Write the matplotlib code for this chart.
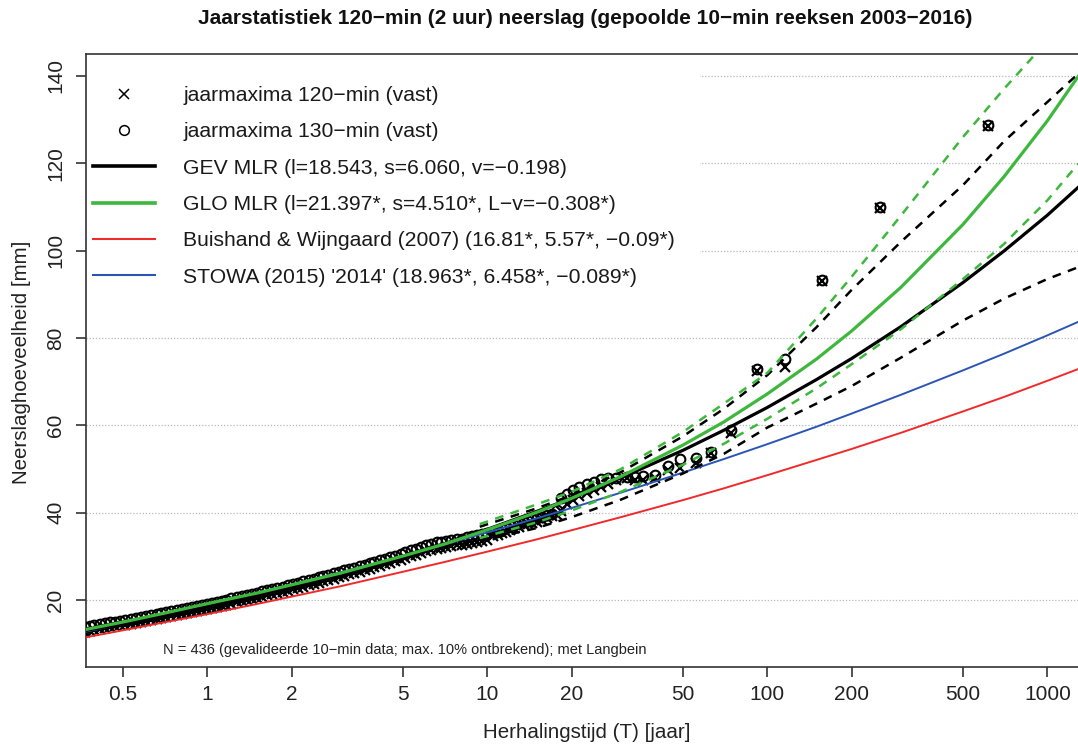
import numpy as np
import matplotlib
matplotlib.use("Agg")
import matplotlib.pyplot as plt
from matplotlib.patches import Rectangle

plt.rcParams['font.family'] = ['Liberation Sans', 'DejaVu Sans']

# ======= data =======
# return periods (jaar) for the fitted curves
T_curve = [0.369, 0.5, 0.7, 1, 1.5, 2, 3, 5, 7, 10, 15, 20, 30, 50, 70,
           100, 150, 200, 300, 500, 700, 1000, 1290]
gev_mlr = [13.1, 14.6, 16.5, 18.5, 21.1, 23.1, 26.0, 30.0, 32.9, 36.2, 40.3, 43.3, 48.0, 54.3, 58.9,
           64.1, 70.5, 75.3, 82.6, 92.7, 99.9, 108.1, 114.5]
glo_mlr = [13.3, 15.0, 17.0, 19.2, 21.6, 23.5, 26.2, 30.1, 32.8, 36.1, 40.1, 43.3, 48.3, 55.5, 60.8,
           67.2, 75.2, 81.6, 91.6, 106.0, 116.9, 129.7, 139.9]
buishand = [11.5, 13.1, 14.9, 16.8, 19.1, 20.8, 23.2, 26.5, 28.7, 31.1, 33.9, 36.0, 39.0, 42.9, 45.6,
            48.6, 52.1, 54.6, 58.3, 63.2, 66.5, 70.2, 72.9]
stowa = [12.8, 14.6, 16.7, 19.0, 21.6, 23.6, 26.4, 30.1, 32.7, 35.5, 38.7, 41.1, 44.6, 49.2, 52.3,
         55.7, 59.7, 62.7, 67.0, 72.6, 76.4, 80.6, 83.7]

# confidence bands (dashed)
T_band = [9.4, 15, 20, 30, 50, 70, 100, 150, 200, 300, 500, 700, 1000, 1290]
gev_upper = [36.8, 41.0, 44.0, 49.3, 57.5, 63.8, 71.5, 82.5, 91.0, 102.0, 115.0, 125.0, 134.0, 140.5]
gev_lower = [33.5, 36.5, 39.0, 43.0, 49.0, 53.5, 59.5, 65.0, 69.0, 75.5, 84.0, 89.0, 93.5, 96.2]
glo_upper = [37.4, 41.9, 44.8, 50.0, 58.5, 65.0, 72.0, 84.5, 94.0, 108.0, 126.0, 137.0, 148.0, 157.0]
glo_lower = [34.2, 37.8, 40.5, 44.8, 51.0, 55.8, 61.5, 68.5, 74.0, 82.0, 93.5, 101.5, 111.5, 119.9]

# annual maxima (plotting positions, Langbein)
T_max = [614, 252, 157, 116, 92, 74, 63, 55.5, 48.8, 44.1, 39.8, 36.0, 33.6, 31.5, 28.9, 27.0,
         25.4, 24.0, 22.7, 21.3, 20.3, 19.2, 18.4, 17.7, 17.0, 16.3, 15.7, 15.1, 14.5, 14.0,
         13.5, 13.0, 12.5, 12.1, 11.7, 11.3, 10.9, 10.5,
         10, 9.6, 9.2, 8.8, 8.45, 8.1, 7.8, 7.45, 7.15, 6.85, 6.6, 6.3, 6.05, 5.8, 5.55, 5.35,
         5.1, 4.9, 4.7, 4.5, 4.3, 4.15, 3.95, 3.8, 3.65, 3.5, 3.35, 3.2, 3.07, 2.95, 2.83, 2.71,
         2.6, 2.5, 2.4, 2.3, 2.2, 2.11, 2.02, 1.94, 1.86, 1.78, 1.71, 1.64, 1.57, 1.51, 1.45,
         1.39, 1.33, 1.28, 1.22, 1.17, 1.13, 1.08, 1.04, 1.0, 0.96, 0.92, 0.88, 0.845, 0.81,
         0.78, 0.745, 0.715, 0.685, 0.66, 0.63, 0.605, 0.58, 0.555, 0.535, 0.51, 0.49, 0.47,
         0.45, 0.43, 0.415, 0.395, 0.38, 0.365]
max_120 = [128.6, 109.8, 93.1, 73.3, 72.5, 58.2, 53.6, 51.5, 50.2, 49.7, 47.9, 47.6, 47.4, 47.9,
           47.6, 46.5, 45.8, 45.2, 44.6, 43.8, 43.0, 42.0, 40.5, 39.6, 39.2, 38.7, 38.3, 38.0,
           37.7, 37.4, 37.1, 36.8, 36.4, 36.0, 35.6, 35.3, 35.0, 34.6,
           33.8, 33.6, 33.4, 33.1, 32.9, 32.7, 32.6, 32.4, 32.2, 32.0, 31.8, 31.5, 31.2, 30.8,
           30.4, 30.1, 29.7, 29.3, 28.9, 28.6, 28.2, 27.9, 27.5, 27.2, 26.9, 26.5, 26.2, 25.9,
           25.6, 25.3, 24.9, 24.6, 24.3, 24.0, 23.7, 23.4, 23.1, 22.8, 22.5, 22.2, 21.9, 21.6,
           21.4, 21.1, 20.8, 20.6, 20.3, 20.0, 19.7, 19.5, 19.2, 18.9, 18.7, 18.4, 18.2, 18.0,
           17.7, 17.5, 17.2, 17.0, 16.8, 16.6, 16.3, 16.1, 15.9, 15.7, 15.4, 15.2, 15.0, 14.8,
           14.6, 14.4, 14.2, 14.0, 13.8, 13.6, 13.4, 13.2, 13.0, 12.8]
max_130 = [128.8, 110.0, 93.3, 75.3, 72.8, 58.9, 54.0, 52.6, 52.4, 50.6, 48.6, 48.4, 48.2, 48.2,
           48.0, 47.9, 47.8, 47.0, 46.5, 45.9, 45.1, 44.2, 43.3, 40.6, 39.8, 39.4, 39.0, 38.8,
           38.5, 38.2, 37.9, 37.6, 37.3, 37.0, 36.6, 36.2, 35.9, 35.5,
           35.4, 35.2, 34.9, 34.6, 34.4, 34.1, 33.9, 33.7, 33.5, 33.4, 33.2, 32.9, 32.6, 32.2,
           31.8, 31.4, 31.0, 30.6, 30.2, 29.8, 29.5, 29.2, 28.8, 28.5, 28.1, 27.8, 27.4, 27.1,
           26.8, 26.5, 26.2, 25.8, 25.5, 25.2, 24.9, 24.6, 24.3, 24.0, 23.7, 23.4, 23.1, 22.8,
           22.6, 22.3, 22.0, 21.7, 21.5, 21.2, 20.9, 20.7, 20.4, 20.1, 19.9, 19.6, 19.4, 19.2,
           18.9, 18.7, 18.4, 18.2, 17.9, 17.7, 17.5, 17.3, 17.0, 16.8, 16.6, 16.4, 16.2, 15.9,
           15.7, 15.5, 15.3, 15.1, 14.9, 14.7, 14.5, 14.3, 14.1, 13.9]

x_ticks = [0.5, 1, 2, 5, 10, 20, 50, 100, 200, 500, 1000]
x_ticklabels = ['0.5', '1', '2', '5', '10', '20', '50', '100', '200', '500', '1000']
y_ticks = [20, 40, 60, 80, 100, 120, 140]

labels = ['jaarmaxima 120\u2212min (vast)',
          'jaarmaxima 130\u2212min (vast)',
          'GEV MLR (l=18.543, s=6.060, v=\u22120.198)',
          'GLO MLR (l=21.397*, s=4.510*, L\u2212v=\u22120.308*)',
          'Buishand & Wijngaard (2007) (16.81*, 5.57*, \u22120.09*)',
          "STOWA (2015) '2014' (18.963*, 6.458*, \u22120.089*)"]

GREEN = '#3db83d'
RED = '#f02a2a'
BLUE = '#2b55b5'

# ======= figure =======
W, H = 1078, 749
fig = plt.figure(figsize=(W / 100, H / 100), dpi=100)
ax = fig.add_axes([86 / W, 1 - 667 / H, (1078 - 86) / W, (667 - 54) / H])

ax.set_xscale('log')
ax.set_xlim(0.369, 1287)
ax.set_ylim(4.7, 145.0)

# horizontal dotted grid, covered by the white legend area
ax.set_axisbelow(True)
ax.yaxis.grid(True, linestyle=(0, (1, 1.5)), color='#b8b8b8', linewidth=0.9)
ax.add_patch(Rectangle((0, (667 - 292) / 613), (700 - 86) / 992, 1,
                       transform=ax.transAxes, facecolor='white', edgecolor='none', zorder=1))

# ======= points =======
ax.plot(T_max, max_120, linestyle='none', marker='x', markersize=7, markeredgewidth=1.6,
        color='black', zorder=3)
ax.plot(T_max, max_130, linestyle='none', marker='o', markersize=7, markeredgewidth=1.5,
        markerfacecolor='none', color='black', zorder=3)

# ======= curves =======
ax.plot(T_curve, buishand, color=RED, linewidth=1.4, zorder=4)
ax.plot(T_curve, stowa, color=BLUE, linewidth=1.4, zorder=4)
ax.plot(T_curve, gev_mlr, color='black', linewidth=2.3, zorder=5)
ax.plot(T_band, gev_upper, color='black', linewidth=1.8, linestyle=(0, (3.5, 3)), zorder=5)
ax.plot(T_band, gev_lower, color='black', linewidth=1.8, linestyle=(0, (3.5, 3)), zorder=5)
ax.plot(T_curve, glo_mlr, color=GREEN, linewidth=2.3, zorder=6)
ax.plot(T_band, glo_upper, color=GREEN, linewidth=1.8, linestyle=(0, (3.5, 3)), zorder=6)
ax.plot(T_band, glo_lower, color=GREEN, linewidth=1.8, linestyle=(0, (3.5, 3)), zorder=6)

# ======= axes styling =======
ax.spines['right'].set_visible(False)
for s in ['left', 'bottom', 'top']:
    ax.spines[s].set_color('#333333')
    ax.spines[s].set_linewidth(1.2)

ax.set_xticks(x_ticks)
ax.set_xticklabels(x_ticklabels)
ax.xaxis.set_minor_locator(matplotlib.ticker.NullLocator())
ax.set_yticks(y_ticks)
ax.set_yticklabels([str(v) for v in y_ticks], rotation=90, va='center')
ax.tick_params(axis='x', length=7, width=1.1, pad=6, labelsize=15, colors='#222222')
ax.tick_params(axis='y', length=7, width=1.1, pad=8, labelsize=15, colors='#222222')

# ======= legend =======
handles = [
    plt.Line2D([], [], linestyle='none', marker='x', markersize=7, markeredgewidth=1.1, color='black'),
    plt.Line2D([], [], linestyle='none', marker='o', markersize=7, markeredgewidth=1.1,
               markerfacecolor='none', color='black'),
    plt.Line2D([], [], color='black', linewidth=2.6),
    plt.Line2D([], [], color=GREEN, linewidth=2.6),
    plt.Line2D([], [], color=RED, linewidth=1.5),
    plt.Line2D([], [], color=BLUE, linewidth=1.5),
]
leg = ax.legend(handles, labels, loc='upper left', bbox_to_anchor=(7 / 992, (667 - 86) / 613),
                frameon=False, fontsize=15.2, handlelength=2.94, handletextpad=1.33,
                labelspacing=0.82, borderpad=0, borderaxespad=0, numpoints=1)
leg.set_zorder(10)
for t in leg.get_texts():
    t.set_color('#1a1a1a')

# ======= texts =======
ax.text((163 - 86) / 992, (667 - 650) / 613,
        'N = 436 (gevalideerde 10\u2212min data; max. 10% ontbrekend); met Langbein',
        transform=ax.transAxes, fontsize=10.5, va='center', ha='left', color='#222222')

fig.text(585 / W, 1 - 18 / H,
         'Jaarstatistiek 120\u2212min (2 uur) neerslag (gepoolde 10\u2212min reeksen 2003\u22122016)',
         fontsize=15, fontweight='bold', ha='center', va='center', color='#111111')
fig.text(690 / W, 1 - 733 / H, 'Herhalingstijd (T) [jaar]', fontsize=14.8, ha='right',
         va='center', color='#222222')
fig.text(22 / W, 1 - 362 / H, 'Neerslaghoeveelheid [mm]', fontsize=14.8, ha='center',
         va='center', rotation=90, color='#222222')

fig.savefig('out.png', dpi=100)
